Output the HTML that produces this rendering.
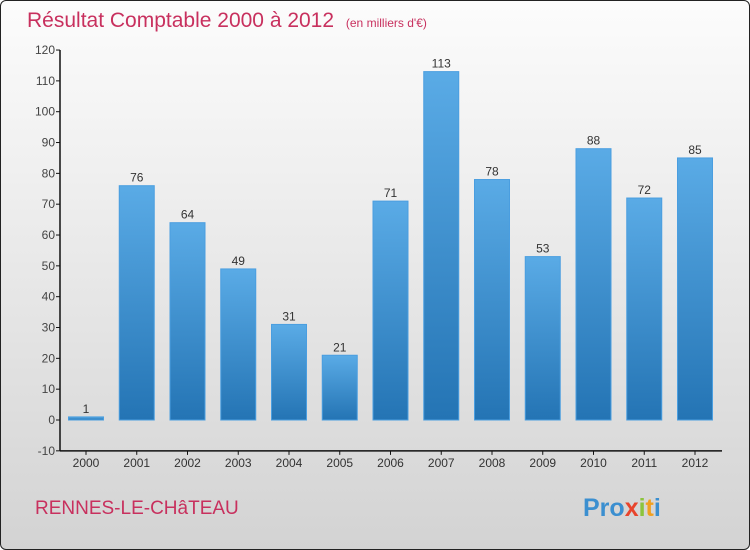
<!DOCTYPE html>
<html><head><meta charset="utf-8"><style>
body{margin:0;width:750px;height:550px;overflow:hidden;font-family:"Liberation Sans",sans-serif}
#frame{position:absolute;left:0;top:0;width:748px;height:548px;border:1px solid #222;border-radius:6px;background:linear-gradient(#fcfcfc 0%,#f0f0f0 30%,#d3d3d3 100%)}
</style></head><body>
<div id="frame"></div>
<svg width="750" height="550" style="position:absolute;left:0;top:0">
<defs><linearGradient id="bg" x1="0" y1="0" x2="0" y2="1"><stop offset="0" stop-color="#5aabe6"/><stop offset="1" stop-color="#2474b4"/></linearGradient></defs>
<text x="27" y="27" font-size="21" fill="#c8305e">Résultat Comptable 2000 à 2012 <tspan font-size="12" dx="6">(en milliers d'€)</tspan></text>
<g id="plot"></g>
<text x="35" y="514" font-size="19" fill="#c8305e">RENNES-LE-CHâTEAU</text>
<text x="583" y="516" font-size="25" font-weight="bold"><tspan fill="#3b8fd0">Pro</tspan><tspan fill="#e8442c">x</tspan><tspan fill="#8cc43c">i</tspan><tspan fill="#f0a020">t</tspan><tspan fill="#3b8fd0">i</tspan></text>
</svg>
<script>
const years=["2000","2001","2002","2003","2004","2005","2006","2007","2008","2009","2010","2011","2012"];
const values=[1,76,64,49,31,21,71,113,78,53,88,72,85];
const yTicks=[-10,0,10,20,30,40,50,60,70,80,90,100,110,120];
const ns="http://www.w3.org/2000/svg";
const g=document.getElementById('plot');
const y0=420,pxPer=3.083,x0=60,x1=722;
const Y=v=>y0-v*pxPer;
const X=i=>86+i*50.75;
function mk(t,a){const e=document.createElementNS(ns,t);for(const k in a)e.setAttribute(k,a[k]);g.appendChild(e);return e;}
let ax=mk('line',{x1:x0,y1:Y(120),x2:x0,y2:Y(-10),stroke:'#111','stroke-width':1.5});


let bx=mk('line',{x1:x0,y1:Y(-10),x2:x1,y2:Y(-10),stroke:'#111','stroke-width':1.5});


yTicks.forEach(v=>{
 mk('line',{x1:x0-4,x2:x0,y1:Y(v),y2:Y(v),stroke:'#111'});
 const t=mk('text',{x:x0-5,y:Y(v)+4,'font-size':12,fill:'#444','text-anchor':'end'});t.textContent=v;
 
 
});
years.forEach((yr,i)=>{
 const v=values[i],cx=X(i),top=Y(Math.max(v,0)),h=Math.abs(Y(v)-Y(0));
 const r=mk('rect',{x:cx-17.5,y:top,width:35,height:Math.max(h,1),fill:'url(#bg)',stroke:'#4a9ee0','stroke-width':1});
 
 
 const l=mk('text',{x:cx,y:top-4,'font-size':12,fill:'#333','text-anchor':'middle'});l.textContent=v;
 
 
 mk('line',{x1:cx,x2:cx,y1:Y(-10),y2:Y(-10)+4,stroke:'#111'});
 const xl=mk('text',{x:cx,y:Y(-10)+16,'font-size':12,fill:'#333','text-anchor':'middle'});xl.textContent=yr;
 
 
});
</script>
</body></html>
